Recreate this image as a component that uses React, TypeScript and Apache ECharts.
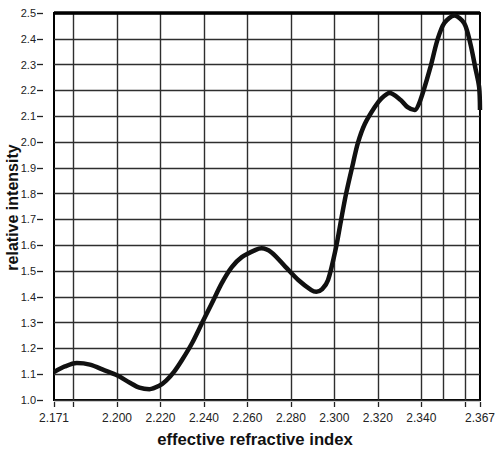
import React, { useEffect, useRef } from "react";
import * as echarts from "echarts";

const xValues = [
  2.171, 2.176, 2.1815, 2.1875, 2.1943, 2.2002, 2.2057, 2.2103, 2.2149, 2.2194,
  2.2226, 2.2263, 2.2299, 2.2345, 2.2391, 2.2437, 2.2482, 2.2528, 2.2574, 2.2638,
  2.2665, 2.2711, 2.2775, 2.2834, 2.2894, 2.2917, 2.2944, 2.2971, 2.3008, 2.3031,
  2.3054, 2.3086, 2.3108, 2.314, 2.3186, 2.3218, 2.3254, 2.3305, 2.3337, 2.3369,
  2.3396, 2.3442, 2.3474, 2.3506, 2.3552, 2.3597, 2.3625, 2.3648, 2.3666, 2.367,
];
const intensity = [
  1.108, 1.13, 1.143, 1.137, 1.115, 1.095, 1.068, 1.048, 1.042, 1.055,
  1.075, 1.11, 1.155, 1.22, 1.298, 1.376, 1.453, 1.515, 1.554, 1.582,
  1.588, 1.572, 1.516, 1.465, 1.426, 1.42, 1.43, 1.465, 1.593, 1.698,
  1.8, 1.918, 1.996, 2.07, 2.136, 2.17, 2.19, 2.163, 2.135, 2.124,
  2.163, 2.29, 2.395, 2.461, 2.49, 2.461, 2.384, 2.29, 2.213, 2.124,
];
const xTickValues = [2.171, 2.18, 2.2, 2.22, 2.24, 2.26, 2.28, 2.3, 2.32, 2.34, 2.36, 2.367];
const xLabelValues = [2.171, 2.2, 2.22, 2.24, 2.26, 2.28, 2.3, 2.32, 2.34, 2.367];
const xGridValues = [2.18, 2.2, 2.22, 2.24, 2.26, 2.28, 2.3, 2.32, 2.34, 2.347, 2.36];

export default function App() {
  const ref = useRef<HTMLDivElement>(null);
  useEffect(() => {
    if (!ref.current) return;
    const chart = echarts.init(ref.current, null, { renderer: "svg" });
    const gridColor = "#2e2e2e";
    chart.setOption({
      animation: false,
      backgroundColor: "#fff",
      grid: {
        left: 54,
        right: 15,
        top: 13,
        bottom: 52,
        show: true,
        borderColor: "#000",
        borderWidth: 2,
      },
      xAxis: {
        type: "value",
        position: "bottom",
        min: 2.171,
        max: 2.367,
        offset: 2,
        axisLine: { show: false },
        splitLine: { show: false },
        axisTick: {
          show: true,
          length: 5,
          customValues: xTickValues,
          lineStyle: { color: "#222", width: 1.3 },
        },
        axisLabel: {
          customValues: xLabelValues,
          formatter: (v: number) => v.toFixed(3),
          margin: 10,
          fontSize: 12,
          color: "#222",
          fontFamily: "'Liberation Sans', Arial, sans-serif",
        },
      },
      yAxis: {
        type: "value",
        position: "left",
        min: 1.0,
        max: 2.5,
        interval: 0.1,
        offset: 11,
        axisLine: { show: false },
        axisTick: { show: true, length: 6, lineStyle: { color: "#222", width: 1.3 } },
        axisLabel: {
          formatter: (v: number) => v.toFixed(1),
          margin: 7,
          fontSize: 11,
          color: "#222",
          fontFamily:
            "'Liberation Sans Narrow', 'Arial Narrow', 'Liberation Sans', Arial, sans-serif",
        },
        splitLine: { show: true, lineStyle: { color: gridColor, width: 1.4 } },
      },
      graphic: [
        {
          type: "text",
          x: 12.5,
          y: 207.5,
          rotation: Math.PI / 2,
          style: {
            text: "relative intensity",
            fontSize: 16,
            fontWeight: "bold",
            fontFamily: "'Liberation Sans', Arial, sans-serif",
            fill: "#111",
            align: "center",
            verticalAlign: "middle",
          },
        },
        {
          type: "text",
          x: 255,
          y: 439.5,
          style: {
            text: "effective refractive index",
            fontSize: 16.7,
            fontWeight: "bold",
            fontFamily: "'Liberation Sans', Arial, sans-serif",
            fill: "#111",
            align: "center",
            verticalAlign: "middle",
          },
        },
      ],
      series: [
        {
          type: "line",
          data: [],
          z: 1,
          silent: true,
          markLine: {
            silent: true,
            symbol: ["none", "none"],
            label: { show: false },
            lineStyle: { color: gridColor, width: 1.4, type: "solid" },
            data: xGridValues.map((v) => ({ xAxis: v })),
          },
        },
        {
          type: "line",
          data: [],
          z: 1,
          silent: true,
          markLine: {
            silent: true,
            symbol: ["none", "none"],
            label: { show: false },
            lineStyle: { color: "#000", width: 3.5, type: "solid" },
            data: [{ yAxis: 2.5 }],
          },
        },
        {
          type: "line",
          z: 5,
          data: xValues.map((x, i) => [x, intensity[i]]),
          showSymbol: false,
          smooth: 0.3,
          lineStyle: { color: "#111", width: 4.5 },
        },
      ],
    });
    return () => chart.dispose();
  }, []);
  return (
    <div
      ref={ref}
      style={{ position: "absolute", left: 0, top: 0, width: 498, height: 452 }}
    />
  );
}
